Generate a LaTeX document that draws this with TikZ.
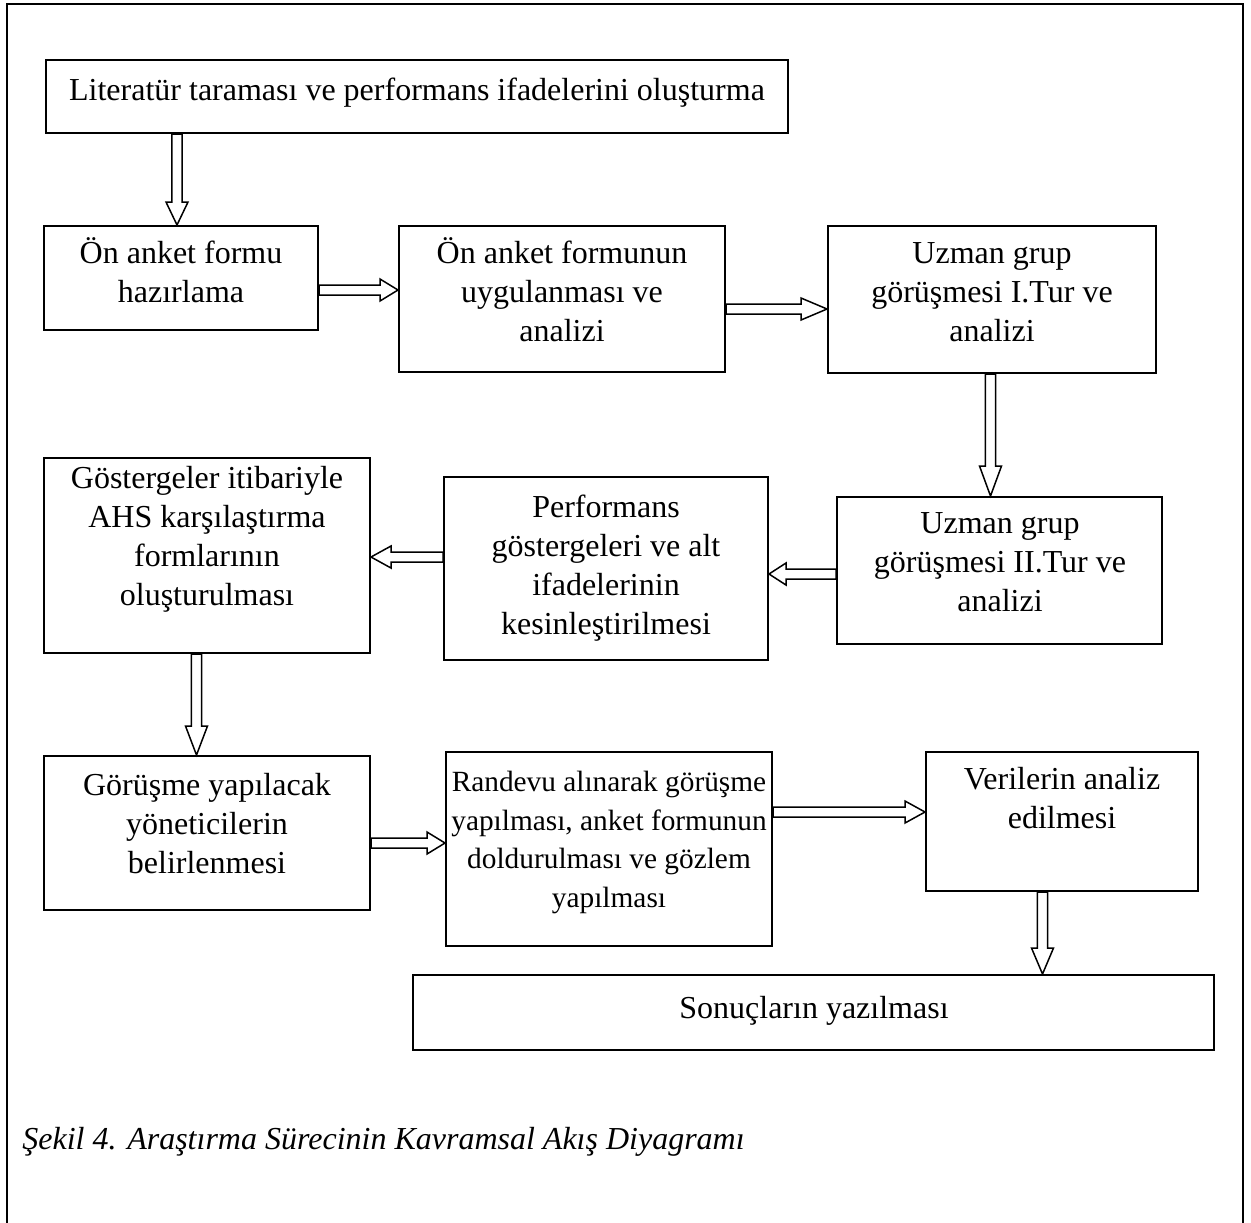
\documentclass[tikz,border=0pt]{standalone}
\usepackage{fontspec}
\setmainfont{Liberation Serif}
\usetikzlibrary{calc,fit}

\tikzset{
  box/.style={draw, line width=1pt, inner sep=0pt},
  txt/.style={font=\fontsize{16}{19.5}\selectfont, align=center, inner sep=0pt, anchor=north},
  smalltxt/.style={txt, font=\fontsize{14.67}{19.3}\selectfont},
  barrow/.style={draw, line width=0.75pt, fill=white, line join=miter},
}

% hollow block arrows: #1 start point, #2 tip point, #3 head length
\newcommand{\dnblock}[3]{%
  \draw[barrow] let \p1=(#1), \p2=(#2) in
    (\x1-2.6pt,\y1) -- (\x1-2.6pt,\y2+#3) -- (\x1-5.5pt,\y2+#3) -- (\x1,\y2)
    -- (\x1+5.5pt,\y2+#3) -- (\x1+2.6pt,\y2+#3) -- (\x1+2.6pt,\y1) -- cycle;}
\newcommand{\rtblock}[3]{%
  \draw[barrow] let \p1=(#1), \p2=(#2) in
    (\x1,\y1+2.5pt) -- (\x2-#3,\y1+2.5pt) -- (\x2-#3,\y1+5.5pt) -- (\x2,\y1)
    -- (\x2-#3,\y1-5.5pt) -- (\x2-#3,\y1-2.5pt) -- (\x1,\y1-2.5pt) -- cycle;}
\newcommand{\ltblock}[3]{%
  \draw[barrow] let \p1=(#1), \p2=(#2) in
    (\x1,\y1+2.5pt) -- (\x2+#3,\y1+2.5pt) -- (\x2+#3,\y1+5.5pt) -- (\x2,\y1)
    -- (\x2+#3,\y1-5.5pt) -- (\x2+#3,\y1-2.5pt) -- (\x1,\y1-2.5pt) -- cycle;}

\begin{document}
\begin{tikzpicture}[x=0.5pt,y=-0.5pt]
\useasboundingbox (0,0) rectangle (1251,1222);

% open frame around the figure
\draw[line width=1.25pt] (7,1240) -- (7,4) -- (1243,4) -- (1243,1240);

% boxes
\node[box, fit={(46,60) (788,133)}] (b1) {};
\node[box, fit={(44,226) (318,330)}] (b2) {};
\node[box, fit={(399,226) (725,372)}] (b3) {};
\node[box, fit={(828,226) (1156,373)}] (b4) {};
\node[box, fit={(44,458) (370,653)}] (b5) {};
\node[box, fit={(444,477) (768,660)}] (b6) {};
\node[box, fit={(837,497) (1162,644)}] (b7) {};
\node[box, fit={(44,756) (370,910)}] (b8) {};
\node[box, fit={(446,752) (772,946)}] (b9) {};
\node[box, fit={(926,752) (1198,891)}] (b10) {};
\node[box, fit={(413,975) (1214,1050)}] (b11) {};

% box texts
\node[txt] (t1) at (417,73) {\strut Literatür taraması ve performans ifadelerini oluşturma};
\node[txt] (t2) at (181,236) {\strut Ön anket formu\\hazırlama};
\node[txt] (t3) at (562,236) {\strut Ön anket formunun\\uygulanması ve\\analizi};
\node[txt] (t4) at (992,236) {\strut Uzman grup\\görüşmesi I.Tur ve\\analizi};
\node[txt] (t5) at (207,461) {\strut Göstergeler itibariyle\\AHS karşılaştırma\\formlarının\\oluşturulması};
\node[txt] (t6) at (606,490) {\strut Performans\\göstergeleri ve alt\\ifadelerinin\\kesinleştirilmesi};
\node[txt] (t7) at (1000,506) {\strut Uzman grup\\görüşmesi II.Tur ve\\analizi};
\node[txt] (t8) at (207,768) {\strut Görüşme yapılacak\\yöneticilerin\\belirlenmesi};
\node[smalltxt] (t9) at (609,764) {\strut Randevu alınarak görüşme\\yapılması, anket formunun\\doldurulması ve gözlem\\yapılması};
\node[txt] (t10) at (1062,762) {\strut Verilerin analiz\\edilmesi};
\node[txt] (t11) at (814,991) {\strut Sonuçların yazılması};

% caption
\node[txt, anchor=north west, font=\fontsize{16}{19.5}\selectfont\itshape] (cap) at (22,1122)
  {\strut Şekil 4. Araştırma Sürecinin Kavramsal Akış Diyagramı};

% arrow end points on the box borders
\coordinate (a1s) at (177,0 |- b1.south);   \coordinate (a1e) at (177,0 |- b2.north);
\coordinate (a2s) at (0,290 -| b2.east);    \coordinate (a2e) at (0,290 -| b3.west);
\coordinate (a3s) at (0,309 -| b3.east);    \coordinate (a3e) at (0,309 -| b4.west);
\coordinate (a4s) at (990.5,0 |- b4.south); \coordinate (a4e) at (990.5,0 |- b7.north);
\coordinate (a5s) at (0,574 -| b7.west);    \coordinate (a5e) at (0,574 -| b6.east);
\coordinate (a6s) at (0,557 -| b6.west);    \coordinate (a6e) at (0,557 -| b5.east);
\coordinate (a7s) at (196.5,0 |- b5.south); \coordinate (a7e) at (196.5,0 |- b8.north);
\coordinate (a8s) at (0,843 -| b8.east);    \coordinate (a8e) at (0,843 -| b9.west);
\coordinate (a9s) at (0,812 -| b9.east);    \coordinate (a9e) at (0,812 -| b10.west);
\coordinate (a10s) at (1042.5,0 |- b10.south); \coordinate (a10e) at (1042.5,0 |- b11.north);

% block arrows
\dnblock{a1s}{a1e}{11.5pt}
\rtblock{a2s}{a2e}{9pt}
\rtblock{a3s}{a3e}{13pt}
\dnblock{a4s}{a4e}{15pt}
\ltblock{a5s}{a5e}{8.5pt}
\ltblock{a6s}{a6e}{10pt}
\dnblock{a7s}{a7e}{14.5pt}
\rtblock{a8s}{a8e}{9pt}
\rtblock{a9s}{a9e}{10pt}
\dnblock{a10s}{a10e}{13pt}
\end{tikzpicture}
\end{document}
